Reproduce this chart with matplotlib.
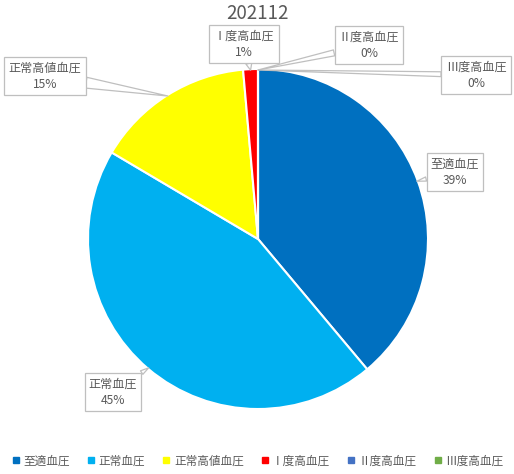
import numpy as np
import matplotlib.pyplot as plt
from matplotlib.lines import Line2D

plt.rcParams['font.family'] = ['Noto Sans CJK JP', 'DejaVu Sans']

title = "202112"
categories = ["至適血圧", "正常血圧", "正常高値血圧", "Ⅰ度高血圧", "Ⅱ度高血圧", "Ⅲ度高血圧"]
values = [38.9, 44.6, 15.1, 1.4, 0.0, 0.0]
pct_labels = ["39%", "45%", "15%", "1%", "0%", "0%"]
colors = ["#0070C0", "#00B0F0", "#FFFF00", "#FF0000", "#4472C4", "#70AD47"]

# callout box centres in pixel layout (x from left, y from top)
label_pos = [(455, 172), (113, 392), (45, 76), (244, 44), (369, 45), (476, 75)]
tail_w = [0.35, 0.35, 0.9, 0.5, 0.5, 0.4]

W, H = 514, 474
cx, cy, r = 258, H - 239, 170
grey = "#595959"

fig = plt.figure(figsize=(W / 100, H / 100), dpi=100)
ax = fig.add_axes([0, 0, 1, 1])

ax.pie(values, colors=colors, startangle=90, counterclock=False,
       center=(cx, cy), radius=r, frame=True,
       wedgeprops=dict(edgecolor="white", linewidth=1.5))
ax.set_xlim(0, W)
ax.set_ylim(0, H)
ax.set_aspect("equal")
ax.axis("off")

total = sum(values)
cum = 0.0
for i, v in enumerate(values):
    mid = np.deg2rad(90 - 360 * (cum + v / 2) / total)
    cum += v
    ex, ey = cx + (r - 1) * np.cos(mid), cy + (r - 1) * np.sin(mid)
    tx, ty = label_pos[i][0], H - label_pos[i][1]
    ax.annotate(f"{categories[i]}\n{pct_labels[i]}", xy=(ex, ey), xytext=(tx, ty),
                ha="center", va="center", fontsize=8.7, color=grey,
                linespacing=1.35,
                bbox=dict(boxstyle="square,pad=0.35", fc="white", ec="#BFBFBF", lw=0.9),
                arrowprops=dict(arrowstyle=f"wedge,tail_width={tail_w[i]}",
                                fc="white", ec="#BFBFBF", lw=0.9,
                                shrinkA=0, shrinkB=0))

ax.text(W / 2, H - 13, title, ha="center", va="center", fontsize=13.5, color=grey)

handles = [Line2D([0], [0], marker="s", linestyle="none", markersize=5,
                  markerfacecolor=c, markeredgecolor=c) for c in colors]
fig.legend(handles, categories, loc="center", bbox_to_anchor=(0.5, 1 - 461 / H),
           ncol=6, frameon=False, fontsize=8.4, labelcolor=grey,
           handletextpad=0.15, columnspacing=1.3, handlelength=1.0)

fig.savefig("out.png", dpi=100)
